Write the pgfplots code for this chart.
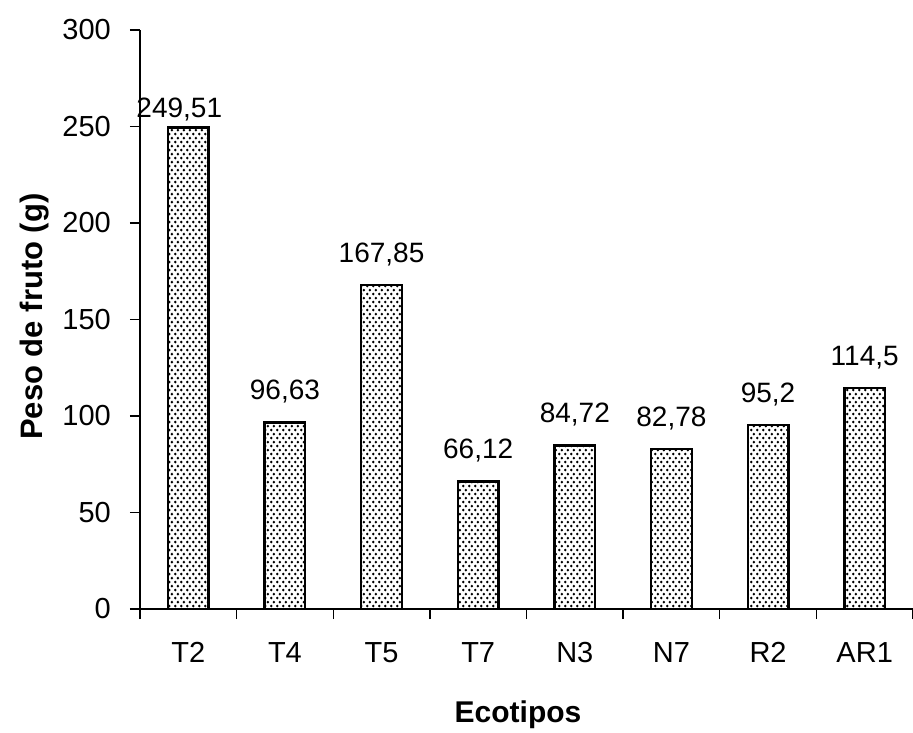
\documentclass[border=0pt]{standalone}
\usepackage{fontspec}
\setmainfont{Liberation Sans}
\usepackage{pgfplots}
\pgfplotsset{compat=1.18}
\usetikzlibrary{patterns.meta}

% staggered dot screen used inside the bars
\tikzdeclarepattern{
  name=bardots,
  type=uncolored,
  bounding box={(0pt,0pt) and (6pt,8.4pt)},
  tile size={(6pt,8.4pt)},
  code={
    \fill (1.5pt,2.1pt) circle (1.55pt);
    \fill (4.5pt,6.3pt) circle (1.55pt);
  }
}

\newcommand\lbl{\fontsize{29}{33}\selectfont}

\begin{document}
\begin{tikzpicture}
\useasboundingbox (-140pt,-124pt) rectangle (773pt,609pt);
\begin{axis}[
  at={(0pt,0pt)}, anchor=south west,
  scale only axis, width=773pt, height=579pt,
  xmin=-0.5, xmax=7.5, ymin=0, ymax=300,
  axis lines=left,
  axis line style={-, line width=1.4pt},
  xtick={0,...,7},
  xticklabels={T2,T4,T5,T7,N3,N7,R2,AR1},
  minor xtick={-0.5,0.5,...,7.5},
  major x tick style={draw=none},
  ytick={0,50,...,300},
  tick align=outside,
  major tick length=10pt, minor tick length=10pt,
  tick style={line width=1.4pt, black},
  tick label style={font=\lbl},
  /pgf/number format/assume math mode=true,
  /pgf/number format/use comma,
  /pgf/number format/fixed,
  /pgf/number format/precision=2,
  yticklabel style={anchor=east, inner sep=0pt, xshift=-19pt},
  xticklabel style={anchor=north, inner sep=0pt, yshift=-23pt},
  xlabel={Ecotipos},
  ylabel={Peso de fruto (g)},
  xlabel style={font=\fontsize{30}{34}\selectfont\bfseries,
    at={(axis description cs:0.489,-0.196)}, anchor=base},
  ylabel style={font=\fontsize{31}{35}\selectfont\bfseries,
    at={(axis description cs:-0.1255,0.505)}, anchor=base, rotate=0},
  every axis plot/.append style={
    ybar, bar width=0.42, bar shift=0pt,
    draw=black, line width=2.4pt,
    pattern=bardots, pattern color=black,
  },
  nodes near coords,
  every node near coord/.append style={font=\fontsize{28}{32}\selectfont,
    anchor=base, inner sep=0pt, black, line width=0pt},
]
\addplot[every node near coord/.append style={xshift=-9pt, yshift=10pt}]
  coordinates {(0,249.51)};
\addplot[every node near coord/.append style={yshift=23pt}]
  coordinates {(1,96.63) (2,167.85) (3,66.12) (4,84.72) (5,82.78) (6,95.2) (7,114.5)};
\end{axis}
\end{tikzpicture}
\end{document}
